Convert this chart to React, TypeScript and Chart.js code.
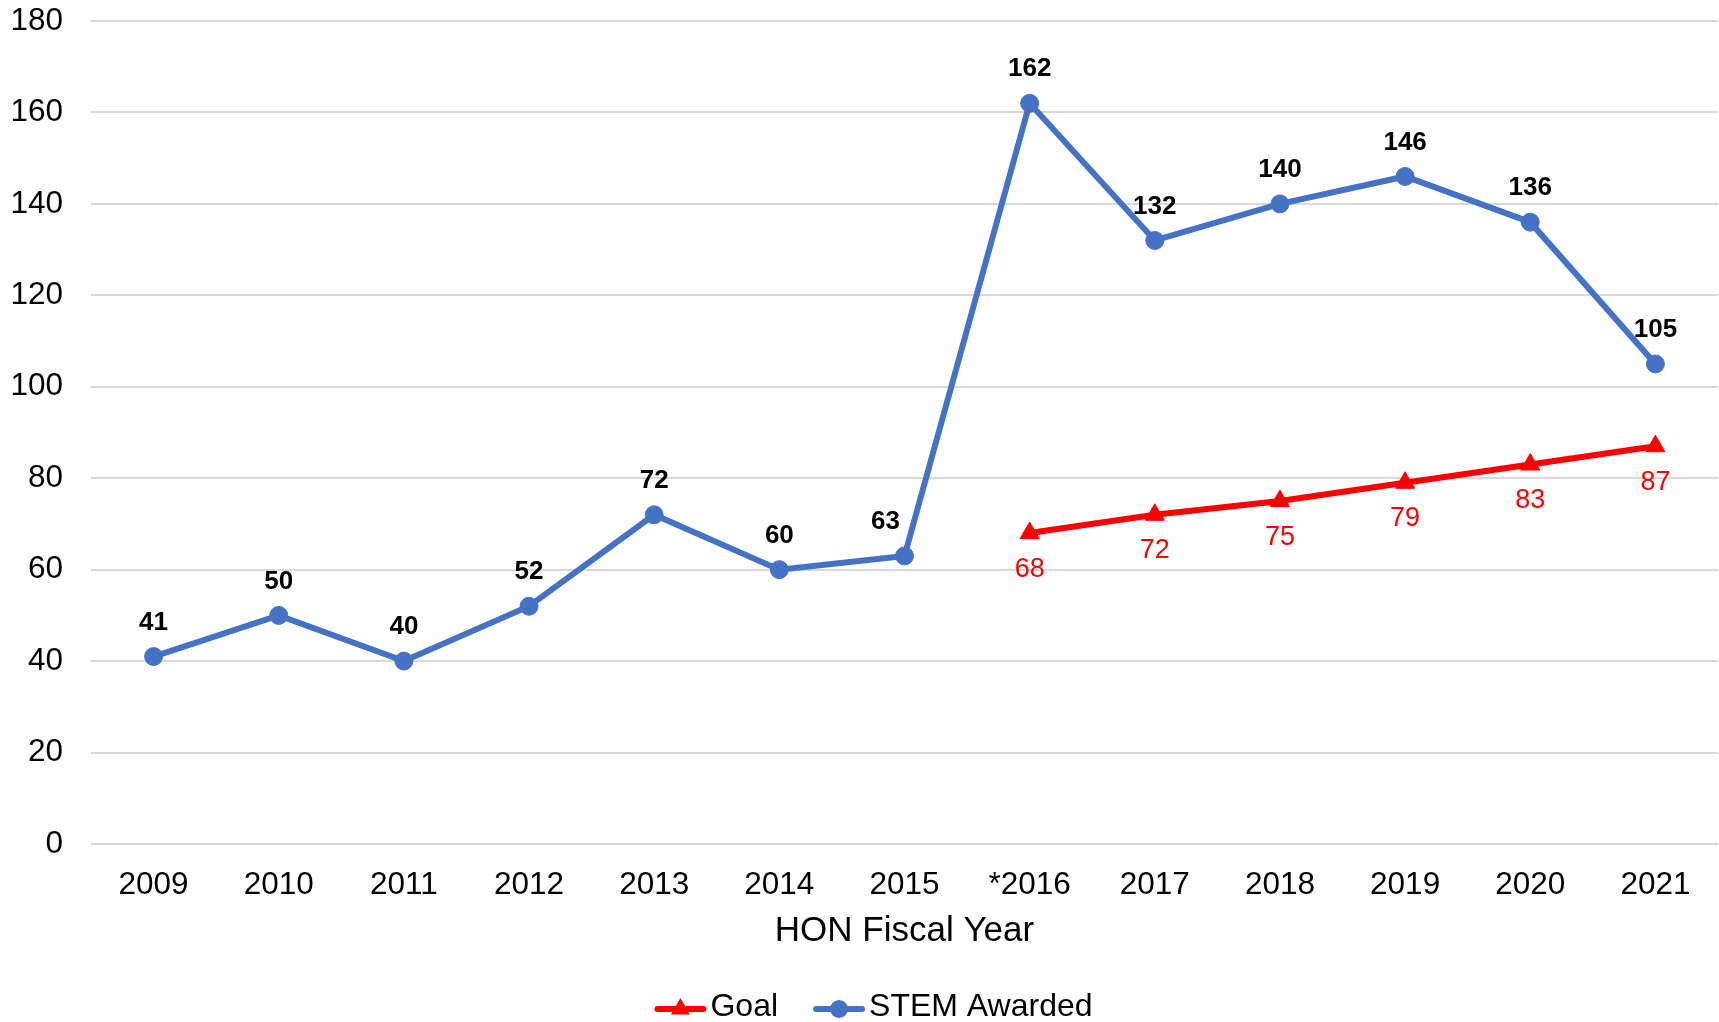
import React, { useEffect, useRef } from "react";
import { Chart, registerables } from "chart.js";

Chart.register(...registerables);

const FONT = "'Liberation Sans', Arial, Helvetica, sans-serif";

const categories = ["2009", "2010", "2011", "2012", "2013", "2014", "2015", "*2016", "2017", "2018", "2019", "2020", "2021"];
const stemAwarded = [41, 50, 40, 52, 72, 60, 63, 162, 132, 140, 146, 136, 105];
const goal = [null, null, null, null, null, null, null, 68, 72, 75, 79, 83, 87];
const yMin = 0;
const yMax = 180;
const yStep = 20;
const xTitle = "HON Fiscal Year";

const BLUE = "#4472C4";
const RED = "#FF0000";

// horizontal nudges for individual data labels (index -> px)
const stemLabelShift: Record<number, number> = { 6: -19 };

const dataLabelPlugin = {
  id: "dataLabels",
  afterDatasetsDraw(chart: any) {
    const ctx = chart.ctx;
    ctx.save();
    ctx.textAlign = "center";
    ctx.textBaseline = "middle";
    chart.data.datasets.forEach((ds: any, di: number) => {
      const meta = chart.getDatasetMeta(di);
      meta.data.forEach((pt: any, i: number) => {
        const v = ds.data[i];
        if (v === null || v === undefined) return;
        if (ds.label === "Goal") {
          ctx.font = `27px ${FONT}`;
          ctx.fillStyle = RED;
          ctx.fillText(String(v), pt.x, pt.y + 36);
        } else {
          ctx.font = `bold 26px ${FONT}`;
          ctx.fillStyle = "#000000";
          ctx.fillText(String(v), pt.x + (stemLabelShift[i] || 0), pt.y - 34);
        }
      });
    });
    ctx.restore();
  },
};

const legendPlugin = {
  id: "lineLegend",
  afterDraw(chart: any) {
    const ctx = chart.ctx;
    ctx.save();
    ctx.font = `32px ${FONT}`;
    ctx.textBaseline = "middle";
    ctx.textAlign = "left";
    const iconW = 52;
    const gapText = 4;
    const gapItem = 35;
    const items = chart.data.datasets.map((ds: any) => ({
      label: ds.label,
      color: ds.borderColor,
      style: ds.pointStyle,
      r: ds.pointRadius,
    }));
    let total = 0;
    items.forEach((it: any, i: number) => {
      total += iconW + gapText + ctx.measureText(it.label).width + (i < items.length - 1 ? gapItem : 0);
    });
    let x = chart.width / 2 + 14 - total / 2;
    const y = chart.height - 15;
    items.forEach((it: any) => {
      ctx.strokeStyle = it.color;
      ctx.fillStyle = it.color;
      ctx.lineWidth = 6;
      ctx.lineCap = "round";
      ctx.beginPath();
      ctx.moveTo(x + 3, y + 2);
      ctx.lineTo(x + iconW - 3, y + 2);
      ctx.stroke();
      const cx = x + iconW / 2;
      const cy = y + 2;
      if (it.style === "triangle") {
        const r = it.r;
        ctx.beginPath();
        ctx.moveTo(cx, cy - r);
        ctx.lineTo(cx + r * Math.sin((2 * Math.PI) / 3), cy - r * Math.cos((2 * Math.PI) / 3));
        ctx.lineTo(cx + r * Math.sin((4 * Math.PI) / 3), cy - r * Math.cos((4 * Math.PI) / 3));
        ctx.closePath();
        ctx.fill();
      } else {
        ctx.beginPath();
        ctx.arc(cx, cy, it.r, 0, Math.PI * 2);
        ctx.fill();
      }
      x += iconW + gapText;
      ctx.fillStyle = "#000000";
      ctx.fillText(it.label, x, y);
      x += ctx.measureText(it.label).width + gapItem;
    });
    ctx.restore();
  },
};

export default function App() {
  const canvasRef = useRef<HTMLCanvasElement | null>(null);

  useEffect(() => {
    if (!canvasRef.current) return;
    const chart = new Chart(canvasRef.current, {
      type: "line",
      data: {
        labels: categories,
        datasets: [
          {
            label: "Goal",
            data: goal,
            borderColor: RED,
            backgroundColor: RED,
            borderWidth: 6,
            pointStyle: "triangle",
            pointRadius: 11,
            pointBorderWidth: 1,
            pointBackgroundColor: RED,
            pointBorderColor: RED,
            tension: 0,
            spanGaps: false,
          },
          {
            label: "STEM Awarded",
            data: stemAwarded,
            borderColor: BLUE,
            backgroundColor: BLUE,
            borderWidth: 6,
            pointStyle: "circle",
            pointRadius: 9,
            pointBorderWidth: 1,
            pointBackgroundColor: BLUE,
            pointBorderColor: BLUE,
            tension: 0,
          },
        ],
      },
      options: {
        animation: false,
        responsive: true,
        maintainAspectRatio: false,
        layout: { autoPadding: false, padding: { top: 21, right: 1, bottom: 70, left: 0 } },
        plugins: {
          legend: { display: false },
          tooltip: { enabled: false },
        },
        scales: {
          x: {
            offset: true,
            grid: { display: false, drawTicks: true, tickLength: 22, tickColor: "rgba(0,0,0,0)" },
            border: { display: false },
            ticks: {
              color: "#000000",
              padding: 0,
              maxRotation: 0,
              autoSkip: false,
              font: { family: FONT, size: 31.5 },
            },
            title: {
              display: true,
              text: xTitle,
              color: "#000000",
              padding: { top: 0, bottom: 0 },
              font: { family: FONT, size: 35 },
            },
            afterFit(scale: any) {
              scale.height = 108;
              scale.paddingLeft = 0;
              scale.paddingRight = 0;
            },
          },
          y: {
            min: yMin,
            max: yMax,
            grid: { color: "#D9D9D9", lineWidth: 2, drawTicks: true, tickLength: 28, tickColor: "rgba(0,0,0,0)" },
            border: { display: false },
            ticks: {
              stepSize: yStep,
              color: "#000000",
              padding: 0,
              font: { family: FONT, size: 31.5 },
            },
            afterFit(scale: any) {
              scale.width = 91;
              scale.paddingTop = 0;
              scale.paddingBottom = 0;
            },
          },
        },
      },
      plugins: [dataLabelPlugin, legendPlugin],
    });
    return () => chart.destroy();
  }, []);

  return (
    <div style={{ position: "fixed", left: 0, top: 0, width: 1719, height: 1022, background: "#ffffff" }}>
      <canvas ref={canvasRef} />
    </div>
  );
}
